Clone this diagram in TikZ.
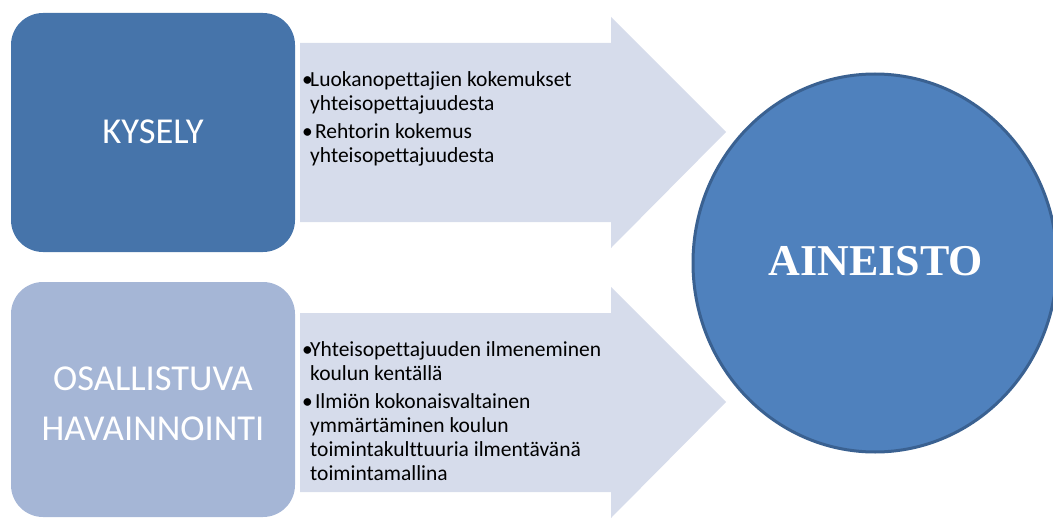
\documentclass[tikz,border=0pt]{standalone}
\usepackage{fontspec}
\setmainfont{Carlito}[Ligatures=NoCommon]
\newfontfamily\titlefont{Liberation Serif}
\usetikzlibrary{positioning}

\definecolor{kyselyblue}{HTML}{4674AA}
\definecolor{havainblue}{HTML}{A5B6D6}
\definecolor{arrowgrey}{HTML}{D6DCEB}
\definecolor{circlefill}{HTML}{4F81BD}
\definecolor{circleedge}{HTML}{3A6191}

\newcommand{\bitem}[1]{\makebox[8pt][l]{\textbullet}#1}
\newcommand{\bcont}[1]{\hspace*{8pt}#1}

\begin{document}
\begin{tikzpicture}[x=1pt,y=-1pt,
    method/.style={rounded corners=32pt, inner sep=0pt},
    methodtext/.style={text=white, font=\fontsize{36.5}{50}\selectfont, align=center},
    bullets/.style={anchor=north west, inner sep=0pt, align=left,
        font=\fontsize{21.5}{24}\selectfont},
    bigarrow/.style={fill=arrowgrey}]
    \useasboundingbox (0,0) rectangle (1053,519);
    \clip (0,0) rectangle (1053,519);

    % arrows
    \fill[bigarrow] (300,43) -- (611,43) -- (611,17) -- (726,132)
        -- (611,248) -- (611,222) -- (300,222) -- cycle;
    \fill[bigarrow] (300,313) -- (611,313) -- (611,287) -- (726,402)
        -- (611,518) -- (611,492) -- (300,492) -- cycle;

    % boxes
    \fill[kyselyblue, method] (11,13) rectangle (295,252);
    \fill[havainblue, method] (11,282) rectangle (295,517);
    \node[methodtext] (kysely) at (153,132) {KYSELY};
    \node[methodtext] (havain) at (153,404) {OSALLISTUVA\\HAVAINNOINTI};

    \node[bullets] (kyselylist) at (302,71) {%
        \bitem{Luokanopettajien kokemukset}\\
        \bcont{yhteisopettajuudesta}\\[4pt]
        \bitem{ Rehtorin kokemus}\\
        \bcont{yhteisopettajuudesta}};
    \node[bullets] (havainlist) at (302,341) {%
        \bitem{Yhteisopettajuuden ilmeneminen}\\
        \bcont{koulun kentällä}\\[4pt]
        \bitem{ Ilmiön kokonaisvaltainen}\\
        \bcont{ymmärtäminen koulun}\\
        \bcont{toimintakulttuuria ilmentävänä}\\
        \bcont{toimintamallina}};

    % circle
    \draw[fill=circlefill, draw=circleedge, line width=3pt]
        (875,263) ellipse (182 and 189);
    \node[text=white, font=\titlefont\bfseries\fontsize{44}{50}\selectfont]
        (aineisto) at (876,261) {AINEISTO};
\end{tikzpicture}
\end{document}
